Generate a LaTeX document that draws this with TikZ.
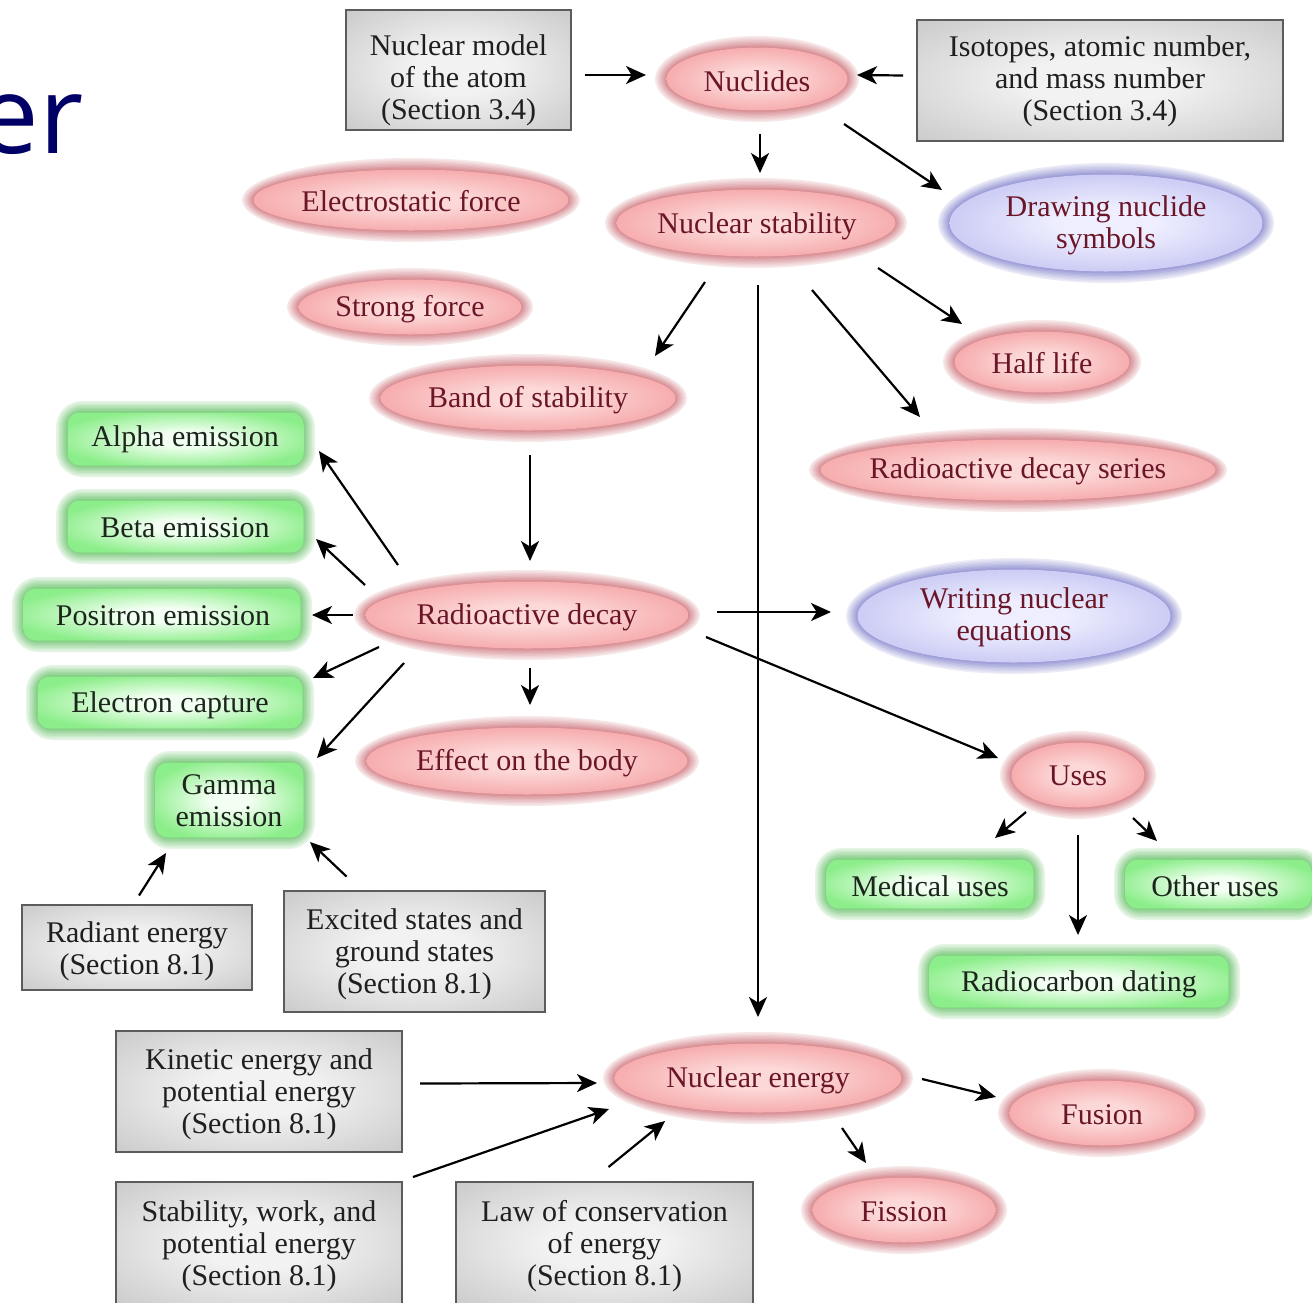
\documentclass[tikz,border=0pt]{standalone}
\usepackage{fontspec}
\setmainfont{Liberation Serif}
\newfontfamily\erfont{Open Sans}
\usetikzlibrary{arrows.meta}

\definecolor{pkrim}{HTML}{D4858C}
\definecolor{pkbody}{HTML}{F5A0A2}
\definecolor{pkc}{HTML}{FCD8D8}
\definecolor{blrim}{HTML}{9494D4}
\definecolor{blbody}{HTML}{C2C2F2}
\definecolor{blc}{HTML}{EEEEFF}
\definecolor{grrim}{HTML}{7AC87B}
\definecolor{grbody}{HTML}{8CEE8A}
\definecolor{grc}{HTML}{F2FFF2}
\definecolor{gyc}{HTML}{F2F2F2}
\definecolor{gyb}{HTML}{B4B4B4}
\definecolor{gyline}{HTML}{5C5C5C}
\definecolor{redtext}{HTML}{6B1628}
\definecolor{darktext}{HTML}{1C261C}
\definecolor{navy}{HTML}{000066}

\pgfdeclareradialshading{pkshade}{\pgfpoint{0bp}{0bp}}{color(0bp)=(pkc); color(8bp)=(pkc); color(30bp)=(pkbody); color(44bp)=(pkbody); color(50bp)=(pkrim)}
\pgfdeclareradialshading{blshade}{\pgfpoint{0bp}{0bp}}{color(0bp)=(blc); color(8bp)=(blc); color(30bp)=(blbody); color(44bp)=(blbody); color(50bp)=(blrim)}
\pgfdeclareradialshading{grshade}{\pgfpoint{0bp}{0bp}}{color(0bp)=(grc); color(7bp)=(grc); color(28bp)=(grbody); color(60bp)=(grbody); color(72bp)=(grrim)}
\pgfdeclareradialshading{gyshade}{\pgfpoint{0bp}{0bp}}{color(0bp)=(gyc); color(10bp)=(gyc); color(50bp)=(gyb); color(72bp)=(gyb)}

\newcommand{\ellglow}[5]{%
  \foreach \k in {0,...,8}{%
    \pgfmathsetmacro{\dd}{\k*1.4}%
    \pgfmathtruncatemacro{\pp}{18+\k*10}%
    \fill[#5rim!\pp!white] (#1,#2) ellipse [x radius={#3-\dd}, y radius={#4-\dd}];
  }%
  \shade[shading=#5shade] (#1,#2) ellipse [x radius={#3-11.5}, y radius={#4-11.5}];
}
\newcommand{\rectglow}[5]{%
  \foreach \k in {0,...,8}{%
    \pgfmathsetmacro{\dd}{\k*1.4}%
    \pgfmathtruncatemacro{\pp}{18+\k*10}%
    \pgfmathsetmacro{\rr}{13-\k*0.7}%
    \fill[#5rim!\pp!white, rounded corners=\rr pt] (#1+\dd,#2+\dd) rectangle (#3-\dd,#4-\dd);
  }%
  \shade[shading=#5shade, rounded corners=6pt] (#1+11.5,#2+11.5) rectangle (#3-11.5,#4-11.5);
}

\tikzset{
  lbl/.style={inner sep=0pt, outer sep=0pt, align=center, font=\fontsize{15}{16}\selectfont},
  redlbl/.style={lbl, text=redtext},
  grnlbl/.style={lbl, text=darktext},
  graybox/.style={inner sep=0pt, outer sep=0pt, draw=gyline, line width=1pt, shade, shading=gyshade},
  graytxt/.style={lbl, text=black!88},
  arr/.style={-{Stealth[length=10pt,width=9pt,inset=2.8pt]}, line width=1.1pt, black},
}

\begin{document}
\begin{tikzpicture}[x=0.5pt,y=-0.5pt]
\useasboundingbox (0,0) rectangle (1312,1302);
\fill[white] (0,0) rectangle (1312,1302);

% title fragment
\node[anchor=base east, inner sep=0pt, text=navy, font=\erfont\fontsize{54}{60}\selectfont] (title) at (84,153) {er};

% glowing ellipses
\ellglow{757}{79}{102}{43}{pk}
\ellglow{411}{200}{169}{42}{pk}
\ellglow{756}{223}{151}{45}{pk}
\ellglow{1106}{223}{168}{60}{bl}
\ellglow{410}{307}{123}{39}{pk}
\ellglow{1042}{362}{99}{42}{pk}
\ellglow{528}{398}{159}{44}{pk}
\ellglow{1018}{470}{209}{42}{pk}
\ellglow{527}{615}{173}{45}{pk}
\ellglow{1014}{616}{168}{58}{bl}
\ellglow{527}{761}{172}{45}{pk}
\ellglow{1078}{775}{78}{44}{pk}
\ellglow{758}{1078}{155}{46}{pk}
\ellglow{1102}{1113}{104}{44}{pk}
\ellglow{904}{1210}{103}{44}{pk}

% glowing green boxes
\rectglow{56}{401}{315}{477}{gr}
\rectglow{56}{489}{315}{564}{gr}
\rectglow{12}{577}{312}{652}{gr}
\rectglow{26}{665}{314}{740}{gr}
\rectglow{144}{751}{315}{849}{gr}
\rectglow{815}{848}{1045}{920}{gr}
\rectglow{1114}{848}{1323}{920}{gr}
\rectglow{918}{944}{1240}{1019}{gr}

% ellipse labels
\node[redlbl] (nuc) at (757,81) {Nuclides};
\node[redlbl] (es) at (411,201) {Electrostatic force};
\node[redlbl] (ns) at (757,226) {Nuclear stability};
\node[redlbl] (dns) at (1106,225) {Drawing nuclide\\symbols};
\node[redlbl] (sf) at (410,309) {Strong force};
\node[redlbl] (hl) at (1042,363) {Half life};
\node[redlbl] (bos) at (528,400) {Band of stability};
\node[redlbl] (rds) at (1018,471) {Radioactive decay series};
\node[redlbl] (rd) at (527,617) {Radioactive decay};
\node[redlbl] (wne) at (1014,617) {Writing nuclear\\equations};
\node[redlbl] (eob) at (527,763) {Effect on the body};
\node[redlbl] (uses) at (1078,776) {Uses};
\node[redlbl] (nen) at (758,1080) {Nuclear energy};
\node[redlbl] (fus) at (1102,1115) {Fusion};
\node[redlbl] (fis) at (904,1212) {Fission};

% green labels
\node[grnlbl] (alpha) at (185,439) {Alpha emission};
\node[grnlbl] (beta) at (185,528) {Beta emission};
\node[grnlbl] (pos) at (163,616) {Positron emission};
\node[grnlbl] (ec) at (170,705) {Electron capture};
\node[grnlbl] (gam) at (229,801) {Gamma\\emission};
\node[grnlbl] (med) at (930,886) {Medical uses};
\node[grnlbl] (oth) at (1215,886) {Other uses};
\node[grnlbl] (rcd) at (1079,984) {Radiocarbon dating};

% gray boxes (frame node + text)
\node[graybox, minimum width=112.5pt, minimum height=60pt] (nm) at (458.5,70) {};
\node[graytxt] (nmt) at (458.5,80) {Nuclear model\\of the atom\\(Section 3.4)};
\node[graybox, minimum width=183pt, minimum height=60.5pt] (iso) at (1100,80.5) {};
\node[graytxt] (isot) at (1100,81) {Isotopes, atomic number,\\and mass number\\(Section 3.4)};
\node[graybox, minimum width=115pt, minimum height=42.5pt] (rad) at (137,947.5) {};
\node[graytxt] (radt) at (137,951) {Radiant energy\\(Section 8.1)};
\node[graybox, minimum width=130.5pt, minimum height=60.5pt] (exc) at (414.5,951.5) {};
\node[graytxt] (exct) at (414.5,954) {Excited states and\\ground states\\(Section 8.1)};
\node[graybox, minimum width=143pt, minimum height=60.5pt] (kin) at (259,1091.5) {};
\node[graytxt] (kint) at (259,1094) {Kinetic energy and\\potential energy\\(Section 8.1)};
\node[graybox, minimum width=143pt, minimum height=62pt] (stab) at (259,1244) {};
\node[graytxt] (stabt) at (259,1246) {Stability, work, and\\potential energy\\(Section 8.1)};
\node[graybox, minimum width=148.5pt, minimum height=62pt] (law) at (604.5,1244) {};
\node[graytxt] (lawt) at (604.5,1246) {Law of conservation\\of energy\\(Section 8.1)};

% connectors
\draw[arr] ([shift={(126,5)}]nm.center) -- ([shift={(-111,-6)}]nuc.center);
\draw[arr] ([shift={(-197,-5)}]iso.center) -- ([shift={(100,-6)}]nuc.center);
\draw[arr] ([shift={(3,53)}]nuc.center) -- ([shift={(3,-53)}]ns.center);
\draw[arr] ([shift={(87,43)}]nuc.center) -- ([shift={(-164,-35)}]dns.center);
\draw[arr] ([shift={(-52,56)}]ns.center) -- ([shift={(127,-44)}]bos.center);
\draw[arr] ([shift={(1,59)}]ns.center) -- ([shift={(0,-63)}]nen.center);
\draw[arr] ([shift={(55,64)}]ns.center) -- ([shift={(-98,-54)}]rds.center);
\draw[arr] ([shift={(121,42)}]ns.center) -- ([shift={(-80,-39)}]hl.center);
\draw[arr] ([shift={(2,55)}]bos.center) -- ([shift={(3,-56)}]rd.center);
\draw[arr] ([shift={(-129,-52)}]rd.center) -- ([shift={(134,12)}]alpha.center);
\draw[arr] ([shift={(-162,-32)}]rd.center) -- ([shift={(131,11)}]beta.center);
\draw[arr] ([shift={(-174,-2)}]rd.center) -- ([shift={(149,-1)}]pos.center);
\draw[arr] ([shift={(-148,30)}]rd.center) -- ([shift={(143,-27)}]ec.center);
\draw[arr] ([shift={(-123,46)}]rd.center) -- ([shift={(88,-43)}]gam.center);
\draw[arr] ([shift={(3,51)}]rd.center) -- ([shift={(3,-58)}]eob.center);
\draw[arr] ([shift={(190,-5)}]rd.center) -- ([shift={(-183,-5)}]wne.center);
\draw[arr] ([shift={(179,20)}]rd.center) -- ([shift={(-80,-18)}]uses.center);
\draw[arr] ([shift={(-52,36)}]uses.center) -- ([shift={(65,-48)}]med.center);
\draw[arr] ([shift={(55,42)}]uses.center) -- ([shift={(-58,-45)}]oth.center);
\draw[arr] ([shift={(0,59)}]uses.center) -- ([shift={(-1,-49)}]rcd.center);
\draw[arr] ([shift={(2,-52)}]rad.center) -- ([shift={(-63,52)}]gam.center);
\draw[arr] ([shift={(-68,-75)}]exc.center) -- ([shift={(81,41)}]gam.center);
\draw[arr] ([shift={(161,-8)}]kin.center) -- ([shift={(-161,3)}]nen.center);
\draw[arr] ([shift={(154,-67)}]stab.center) -- ([shift={(-149,29)}]nen.center);
\draw[arr] ([shift={(4,-77)}]law.center) -- ([shift={(-93,41)}]nen.center);
\draw[arr] ([shift={(164,-1)}]nen.center) -- ([shift={(-106,-18)}]fus.center);
\draw[arr] ([shift={(84,48)}]nen.center) -- ([shift={(-38,-49)}]fis.center);
\end{tikzpicture}
\end{document}
